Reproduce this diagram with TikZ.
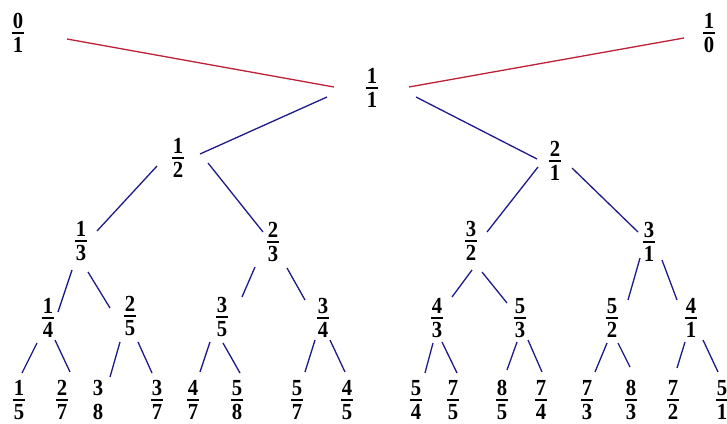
\documentclass[tikz,border=0pt]{standalone}
\usepackage{fontspec}
\setmainfont{Liberation Serif}
\definecolor{edgered}{HTML}{BE2038}
\definecolor{edgeblue}{HTML}{1E1A8A}
\newcommand\dg[1]{\scalebox{0.9}[1]{#1}}
\newcommand\fr[2]{\vbox{\offinterlineskip\halign{\hfil\kern1pt##\kern1pt\hfil\cr \dg{#1}\cr\noalign{\kern3.2pt\hrule height 2pt\kern3.2pt}\dg{#2}\cr}}}
\newcommand\frnb[2]{\vbox{\offinterlineskip\halign{\hfil\kern1pt##\kern1pt\hfil\cr \dg{#1}\cr\noalign{\kern8.4pt}\dg{#2}\cr}}}
\newcommand\lnk[5][blu]{\draw[#1] ([shift={#3}]#2.center) -- ([shift={#5}]#4.center);}
\tikzset{
  fnode/.style={inner sep=0pt, font=\bfseries\fontsize{23}{23}\selectfont},
  blu/.style={draw=edgeblue, line width=1.3pt},
  rd/.style={draw=edgered, line width=1.3pt}
}
\begin{document}
\begin{tikzpicture}[x=1pt,y=-1pt]
\useasboundingbox[fill=white] (0,0) rectangle (727,423);
% level 0
\node[fnode] (n01) at (18,33) {\fr01};
\node[fnode] (n10) at (709,33) {\fr10};
\node[fnode] (n11) at (372,88) {\fr11};
% level 1
\node[fnode] (n12) at (178,158) {\fr12};
\node[fnode] (n21) at (555,161) {\fr21};
% level 2
\node[fnode] (n13) at (81,241) {\fr13};
\node[fnode] (n23) at (273,242) {\fr23};
\node[fnode] (n32) at (471,241) {\fr32};
\node[fnode] (n31) at (649,242) {\fr31};
% level 3
\node[fnode] (n14) at (48,318) {\fr14};
\node[fnode] (n25) at (130,316) {\fr25};
\node[fnode] (n35) at (222,317) {\fr35};
\node[fnode] (n34) at (323,318) {\fr34};
\node[fnode] (n43) at (437,318) {\fr43};
\node[fnode] (n53) at (520,318) {\fr53};
\node[fnode] (n52) at (612,318) {\fr52};
\node[fnode] (n41) at (691,318) {\fr41};
% level 4
\node[fnode] (n15) at (19,400) {\fr15};
\node[fnode] (n27) at (62,400) {\fr27};
\node[fnode] (n38) at (98,400) {\frnb38};
\node[fnode] (n37) at (157,400) {\fr37};
\node[fnode] (n47) at (193,400) {\fr47};
\node[fnode] (n58) at (237,400) {\fr58};
\node[fnode] (n57) at (297,400) {\fr57};
\node[fnode] (n45) at (347,400) {\fr45};
\node[fnode] (n54) at (416,400) {\fr54};
\node[fnode] (n75) at (453,400) {\fr75};
\node[fnode] (n85) at (502,400) {\fr85};
\node[fnode] (n74) at (541,400) {\fr74};
\node[fnode] (n73) at (587,400) {\fr73};
\node[fnode] (n83) at (631,400) {\fr83};
\node[fnode] (n72) at (673,400) {\fr72};
\node[fnode] (n51) at (722,400) {\fr51};
% red edges
\lnk[rd]{n01}{(49,6)}{n11}{(-38,-1)}
\lnk[rd]{n11}{(37,-1)}{n10}{(-25,5)}
% level 0 -> 1
\lnk{n11}{(-45,9)}{n12}{(22,-4)}
\lnk{n11}{(44,9)}{n21}{(-18,-2)}
% level 1 -> 2
\lnk{n12}{(-21,8)}{n13}{(16,-10)}
\lnk{n12}{(30,5)}{n23}{(-10,-10)}
\lnk{n21}{(-17,6)}{n32}{(16,-9)}
\lnk{n21}{(17,7)}{n31}{(-11,-10)}
% level 2 -> 3
\lnk{n13}{(-9,29)}{n14}{(10,-6)}
\lnk{n13}{(7,31)}{n25}{(-20,-8)}
\lnk{n23}{(-18,25)}{n35}{(20,-20)}
\lnk{n23}{(14,26)}{n34}{(-18,-18)}
\lnk{n32}{(1,29)}{n43}{(15,-21)}
\lnk{n32}{(11,31)}{n53}{(-13,-15)}
\lnk{n31}{(-9,16)}{n52}{(16,-18)}
\lnk{n31}{(13,18)}{n41}{(-14,-18)}
% level 3 -> 4
\lnk{n14}{(-11,25)}{n15}{(3,-27)}
\lnk{n14}{(7,22)}{n27}{(8,-28)}
\lnk{n25}{(-10,26)}{n38}{(12,-23)}
\lnk{n25}{(8,26)}{n37}{(-5,-27)}
\lnk{n35}{(-12,25)}{n47}{(7,-28)}
\lnk{n35}{(1,26)}{n58}{(3,-27)}
\lnk{n34}{(-8,22)}{n57}{(8,-28)}
\lnk{n34}{(7,22)}{n45}{(-2,-28)}
\lnk{n43}{(-4,25)}{n54}{(9,-27)}
\lnk{n43}{(5,24)}{n75}{(4,-27)}
\lnk{n53}{(-3,24)}{n85}{(5,-30)}
\lnk{n53}{(8,22)}{n74}{(1,-28)}
\lnk{n52}{(-5,25)}{n73}{(8,-28)}
\lnk{n52}{(6,25)}{n83}{(-1,-33)}
\lnk{n41}{(-6,24)}{n72}{(4,-32)}
\lnk{n41}{(12,22)}{n51}{(-4,-28)}
\end{tikzpicture}
\end{document}
